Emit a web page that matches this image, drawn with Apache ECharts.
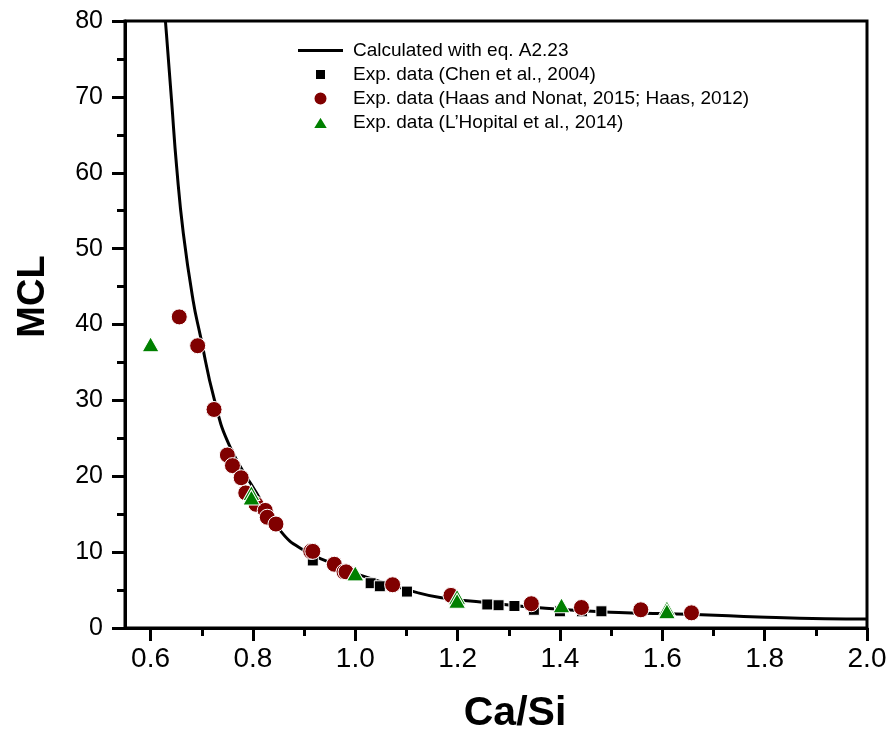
<!DOCTYPE html>
<html>
<head>
<meta charset="utf-8">
<script src="https://cdn.jsdelivr.net/npm/echarts@6/dist/echarts.min.js"></script>
<style>
html,body{margin:0;padding:0;background:#fff;}
#chart{width:889px;height:731px;}
</style>
</head>
<body>
<div id="chart"></div>
<script>
// ---- data ----
const xTickValues = [0.6, 0.8, 1.0, 1.2, 1.4, 1.6, 1.8, 2.0];
const xMinorTickValues = [0.7, 0.9, 1.1, 1.3, 1.5, 1.7, 1.9];

const curveCaSi = [0.629, 0.631, 0.641, 0.651, 0.664, 0.683, 0.697, 0.725, 0.755, 0.807, 0.855, 0.898, 0.955, 1.008, 1.125, 1.177, 1.236, 1.372, 1.515, 1.600, 1.677, 1.788, 1.918, 2.0];
const curveMCL  = [80.0, 78.3, 69.5, 60.7, 52.0, 43.2, 38.6, 30.0, 23.9, 17.8, 12.7, 10.3, 8.5, 7.0, 4.6, 3.9, 3.5, 2.6, 2.05, 1.9, 1.75, 1.45, 1.22, 1.18];

const chenCaSi = [0.917, 1.030, 1.048, 1.101, 1.258, 1.280, 1.311, 1.349, 1.400, 1.443, 1.481];
const chenMCL  = [8.9, 5.9, 5.5, 4.8, 3.1, 3.0, 2.9, 2.4, 2.2, 2.2, 2.2];

const haasCaSi = [0.656, 0.692, 0.724, 0.750, 0.760, 0.777, 0.786, 0.806, 0.824, 0.828, 0.845, 0.913, 0.917, 0.959, 0.978, 0.982, 1.073, 1.187, 1.344, 1.442, 1.558, 1.657];
const haasMCL  = [41.0, 37.2, 28.8, 22.8, 21.4, 19.8, 17.8, 16.3, 15.5, 14.6, 13.7, 10.1, 10.1, 8.4, 7.4, 7.4, 5.7, 4.3, 3.2, 2.7, 2.4, 2.0];

const lhopCaSi = [0.600, 0.797, 0.797, 1.000, 1.199, 1.199, 1.403, 1.609, 1.609];
const lhopMCL  = [37.4, 17.8, 17.2, 7.2, 4.1, 3.6, 3.0, 2.6, 2.2];

const seriesNames = [
  'Calculated with eq. A2.23',
  'Exp. data (Chen et al., 2004)',
  'Exp. data (Haas and Nonat, 2015; Haas, 2012)',
  'Exp. data (L\u2019Hopital et al., 2014)'
];

// legend icon shapes (bbox 45x14 so that keepAspect keeps the drawn size)
const legendIcons = [
  'path://M0,0M45,14M0,5.5L45,5.5L45,8.5L0,8.5Z',
  'path://M0,0M45,14M17,1.5L28,1.5L28,12.5L17,12.5Z',
  'circle',
  'path://M0,0M45,14M22.5,0.5L30.5,13.5L14.5,13.5Z'
];

const pairs = (xs, ys) => xs.map((x, i) => [x, ys[i]]);

const FONT = '"Liberation Sans", Arial, sans-serif';
const chart = echarts.init(document.getElementById('chart'), null, {renderer: 'canvas'});

chart.setOption({
  animation: false,
  backgroundColor: '#fff',
  grid: {left: 125, right: 22, top: 21, bottom: 103, containLabel: false, outerBoundsMode: 'none',
    show: true, borderColor: '#000', borderWidth: 3, backgroundColor: 'transparent'},
  legend: {
    left: 292, top: 36, orient: 'vertical', itemWidth: 45, itemHeight: 14, itemGap: 5,
    selectedMode: false,
    textStyle: {fontFamily: FONT, fontSize: 19, color: '#000', padding: [0, 0, 0, 5]},
    data: seriesNames.map((n, i) => ({name: n, icon: legendIcons[i]}))
  },
  xAxis: [{
    type: 'value', min: 0.55, max: 2.0,
    name: 'Ca/Si', nameLocation: 'middle', nameGap: 65,
    nameTextStyle: {fontFamily: FONT, fontSize: 41, fontWeight: 'bold', color: '#000', padding: [0, 0, 0, 38]},
    axisLine: {show: true, onZero: false, lineStyle: {color: '#000', width: 3}},
    axisTick: {show: true, inside: false, length: 13, lineStyle: {color: '#000', width: 3}, customValues: xTickValues},
    axisLabel: {show: true, margin: 17, fontFamily: FONT, fontSize: 28, color: '#000',
      customValues: xTickValues, formatter: v => Number(v).toFixed(1)},
    splitLine: {show: false}
  }, {
    type: 'value', min: 0.55, max: 2.0, position: 'bottom', gridIndex: 0,
    axisLine: {show: false},
    axisTick: {show: true, inside: false, length: 8, lineStyle: {color: '#000', width: 3}, customValues: xMinorTickValues},
    axisLabel: {show: false},
    splitLine: {show: false}
  }],
  yAxis: {
    type: 'value', min: 0, max: 80, interval: 10,
    name: 'MCL', nameLocation: 'middle', nameGap: 72, nameRotate: 90,
    nameTextStyle: {fontFamily: FONT, fontSize: 38, fontWeight: 'bold', color: '#000', padding: [0, 0, 0, 56]},
    axisLine: {show: true, onZero: false, lineStyle: {color: '#000', width: 3}},
    axisTick: {show: true, inside: false, length: 13, lineStyle: {color: '#000', width: 3}},
    minorTick: {show: true, splitNumber: 2, length: 8, lineStyle: {color: '#000', width: 3}},
    axisLabel: {margin: 22, fontFamily: FONT, fontSize: 25, color: '#000'},
    splitLine: {show: false}, minorSplitLine: {show: false}
  },
  series: [
    {
      name: seriesNames[0], type: 'line', data: pairs(curveCaSi, curveMCL),
      showSymbol: false, symbol: 'none', smooth: 0.5, clip: true,
      lineStyle: {color: '#000', width: 3}, itemStyle: {color: '#000'}, z: 2
    },
    {
      name: seriesNames[1], type: 'scatter', data: pairs(chenCaSi, chenMCL),
      symbol: 'rect', symbolSize: 11,
      itemStyle: {color: '#000', borderColor: '#fff', borderWidth: 1, opacity: 1}, z: 3
    },
    {
      name: seriesNames[2], type: 'scatter', data: pairs(haasCaSi, haasMCL),
      symbol: 'circle', symbolSize: 16,
      itemStyle: {color: '#800000', borderColor: '#fff', borderWidth: 1, opacity: 1}, z: 4
    },
    {
      name: seriesNames[3], type: 'scatter', data: pairs(lhopCaSi, lhopMCL),
      symbol: 'triangle', symbolSize: [17, 15],
      itemStyle: {color: '#008000', borderColor: '#fff', borderWidth: 1, opacity: 1}, z: 5
    }
  ]
});
</script>
</body>
</html>
